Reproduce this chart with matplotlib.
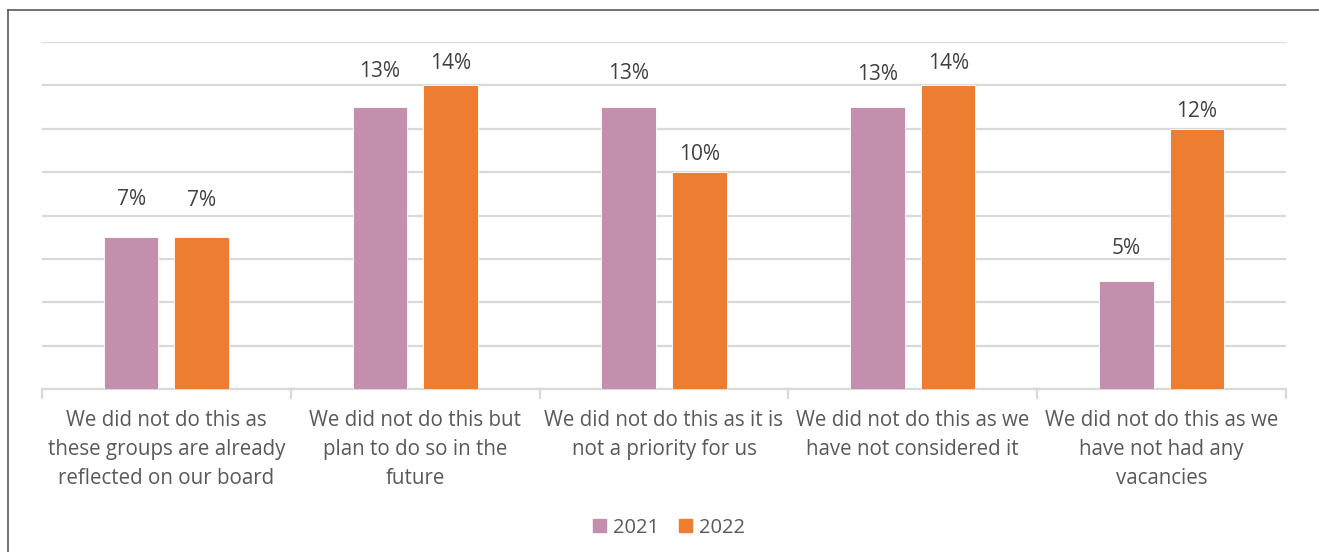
import matplotlib
matplotlib.use("Agg")
import matplotlib.pyplot as plt
from matplotlib.lines import Line2D
import numpy as np

plt.rcParams['font.family'] = ['Open Sans', 'DejaVu Sans']

categories = [
    "We did not do this as\nthese groups are already\nreflected on our board",
    "We did not do this but\nplan to do so in the\nfuture",
    "We did not do this as it is\nnot a priority for us",
    "We did not do this as we\nhave not considered it",
    "We did not do this as we\nhave not had any\nvacancies",
]
series_names = ["2021", "2022"]
values_2021 = [7, 13, 13, 13, 5]
values_2022 = [7, 14, 10, 14, 12]
colors = ["#C48FAC", "#ED7D31"]

# styling: gap (pixels) between bar top and label baseline, as in the reference
label_gap_2021 = [32, 30, 28, 27, 27]
label_gap_2022 = [31, 16, 12, 16, 12]

W, H = 1319, 552
fig = plt.figure(figsize=(W / 100, H / 100), dpi=100)
ax = fig.add_axes([42 / W, 1 - 389 / H, (1286 - 42) / W, (389 - 42) / H])

x = np.arange(len(categories))
bw = 0.22
off = 0.142
for vals, gaps, name, c, sgn in [(values_2021, label_gap_2021, series_names[0], colors[0], -1),
                                 (values_2022, label_gap_2022, series_names[1], colors[1], 1)]:
    bars = ax.bar(x + sgn * off, vals, bw, color=c, label=name, zorder=3,
                  edgecolor="white", linewidth=0.6)
    for b, v, g in zip(bars, vals, gaps):
        ax.annotate(f"{v}%", (b.get_x() + b.get_width() / 2, v),
                    xytext=(0, g * 0.72), textcoords="offset points",
                    ha="center", va="baseline", fontsize=15, color="#404040")

ax.set_xlim(-0.5, len(categories) - 0.5)
ax.set_ylim(0, 16)
ax.set_yticks(np.arange(0, 17, 2))
ax.yaxis.grid(True, color="#D9D9D9", linewidth=1.6, zorder=0)
ax.tick_params(axis="y", left=False, labelleft=False)
for s in ["top", "right", "left"]:
    ax.spines[s].set_visible(False)
ax.spines["bottom"].set_color("#D9D9D9")
ax.spines["bottom"].set_linewidth(1.6)

ax.set_xticks(np.arange(-0.5, len(categories), 1.0), minor=False)
ax.set_xticklabels([])
ax.tick_params(axis="x", which="major", length=7, color="#D9D9D9", width=1.6)
ax.set_xticks(x, minor=True)
ax.set_xticklabels(categories, minor=True, fontsize=14.8, color="#595959",
                   linespacing=1.5)
ax.tick_params(axis="x", which="minor", length=0, pad=15)

handles = [plt.Rectangle((0, 0), 1, 1, color=c) for c in colors]
fig.legend(handles, series_names, loc="center", bbox_to_anchor=(669 / W, 1 - 528 / H),
           ncol=2, frameon=False, fontsize=14.5, labelcolor="#595959",
           handlelength=0.62, handleheight=0.62, handletextpad=0.35,
           columnspacing=1.0)

# outer frame (top and left edges visible)
fig.add_artist(Line2D([7.5 / W, 1], [1 - 10 / H, 1 - 10 / H], color="#595959",
                      linewidth=1.2, transform=fig.transFigure))
fig.add_artist(Line2D([7.5 / W, 7.5 / W], [0, 1 - 10 / H], color="#595959",
                      linewidth=1.2, transform=fig.transFigure))

fig.savefig("out.png", dpi=100)
